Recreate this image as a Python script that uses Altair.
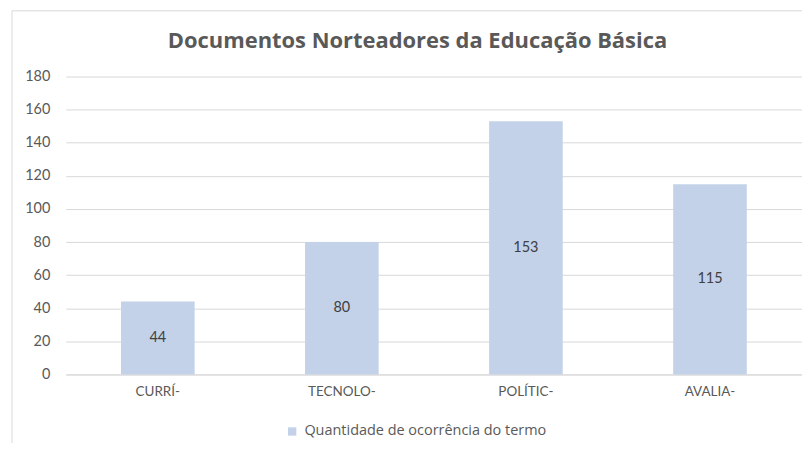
import altair as alt
import pandas as pd

# ---- data ----
categorias = ["CURRÍ-", "TECNOLO-", "POLÍTIC-", "AVALIA-"]
valores = [44, 80, 153, 115]
serie_nome = "Quantidade de ocorrência do termo"
titulo = "Documentos Norteadores da Educação Básica"
y_ticks = [0, 20, 40, 60, 80, 100, 120, 140, 160, 180]

df = pd.DataFrame({
    "cat": categorias,
    "val": valores,
    "serie": [serie_nome] * len(categorias),
})

FONT = "Lato"
WIDE = "Open Sans"
GRAY = "#595959"
BAR = "#C3D2E9"
GRID = "#D9D9D9"

x_enc = alt.X(
    "cat:N",
    sort=categorias,
    scale=alt.Scale(paddingInner=0.6, paddingOuter=0.3),
    axis=alt.Axis(
        title=None, labelAngle=0, ticks=False, domain=True,
        domainColor=GRID, labelFont=FONT, labelFontSize=13.5,
        labelColor=GRAY, labelPadding=10, grid=False,
    ),
)

y_axis = alt.Axis(
    title=None, values=y_ticks, ticks=False, domain=False,
    grid=True, gridColor=GRID, labelFont=FONT, labelFontSize=14.5,
    labelColor=GRAY, labelPadding=16, labelOverlap=False,
)
y_scale = alt.Scale(domain=[0, 180], nice=False)

base = alt.Chart(df).encode(x=x_enc)

bars = base.mark_bar().encode(
    y=alt.Y("val:Q", scale=y_scale, axis=y_axis),
    color=alt.Color(
        "serie:N",
        scale=alt.Scale(range=[BAR]),
        legend=alt.Legend(
            title=None, orient="none", legendX=220, legendY=349,
            direction="horizontal", symbolType="square", symbolSize=70,
            symbolStrokeWidth=0, labelFont=WIDE, labelFontSize=14.5,
            labelColor=GRAY, labelOffset=5, labelLimit=0,
        ),
    ),
)

labels = base.transform_calculate(mid="datum.val / 2").mark_text(
    font=FONT, fontSize=14.5, color="#404040", baseline="middle"
).encode(
    y=alt.Y("mid:Q", scale=y_scale, axis=y_axis),
    text=alt.Text("val:Q"),
)

title_mark = alt.Chart(pd.DataFrame({"t": [titulo]})).mark_text(
    font=WIDE, fontSize=22, fontWeight="bold", color=GRAY,
    align="center", baseline="middle", clip=False,
).encode(x=alt.value(353), y=alt.value(-36), text="t:N")

border = alt.Chart(pd.DataFrame({"k": [0]}))
left_line = border.mark_rule(color="#D9D9D9", clip=False).encode(
    x=alt.value(-54), y=alt.value(-66), y2=alt.value(380)
)
top_line = border.mark_rule(color="#D9D9D9", clip=False).encode(
    x=alt.value(-54), x2=alt.value(760), y=alt.value(-66)
)

chart = alt.layer(left_line, top_line, title_mark, bars, labels).properties(
    width=739,
    height=299,
    autosize=alt.AutoSizeParams(type="none"),
    padding={"left": 58, "top": 68, "right": 0, "bottom": 68},
    background="white",
).configure_view(stroke=None)

chart.save("out.html", embed_options={"renderer": "svg", "actions": False})
